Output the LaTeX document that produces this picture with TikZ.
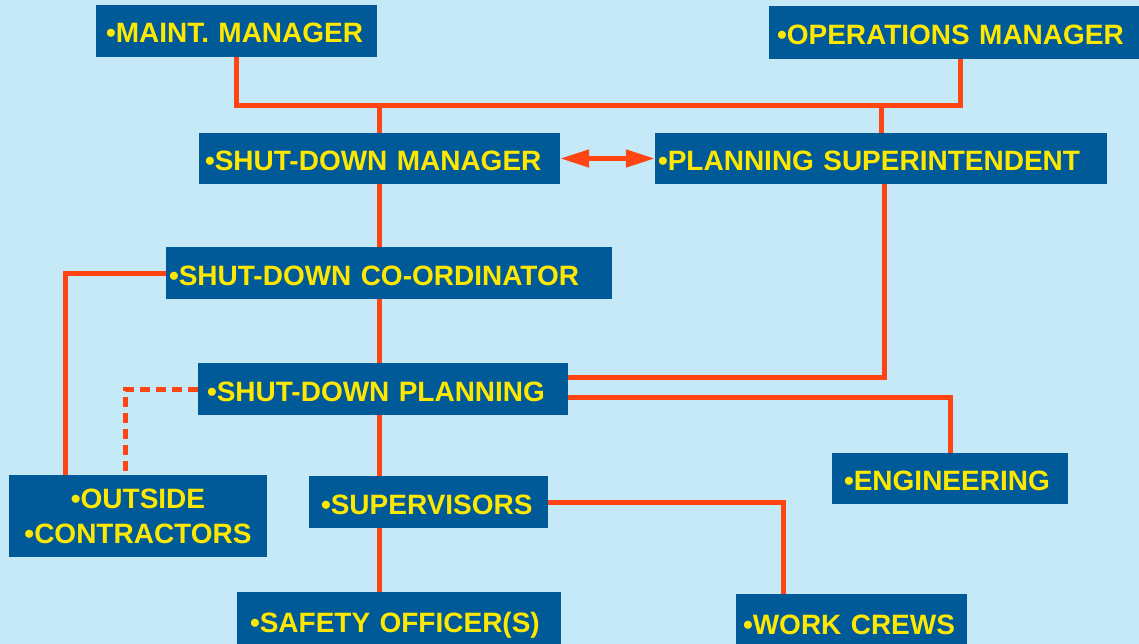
\documentclass[tikz,border=0pt]{standalone}
\usepackage{fontspec}
\setmainfont{Liberation Sans}
\usetikzlibrary{arrows.meta}
\definecolor{bgblue}{RGB}{198,233,247}
\definecolor{boxblue}{RGB}{0,90,152}
\definecolor{txtyellow}{RGB}{255,232,0}
\definecolor{linkred}{RGB}{255,69,20}
\tikzset{
  box/.style={fill=boxblue, text=txtyellow, inner sep=0pt, align=left, font=\bfseries\fontsize{28}{35}\selectfont, text height=24pt, text depth=0pt},
  link/.style={draw=linkred, line width=5pt, line join=miter}
}
\begin{document}
\begin{tikzpicture}[x=1pt,y=-1pt]
\useasboundingbox[fill=bgblue] (0,0) rectangle (1139,644);
\node[box, minimum width=281, minimum height=52, text width=261] (maint) at (236.5,31) {\textbullet MAINT. MANAGER};
\node[box, minimum width=372, minimum height=53, text width=356] (ops) at (955,32.5) {\textbullet OPERATIONS MANAGER};
\node[box, minimum width=361, minimum height=51, text width=349] (sdm) at (379.5,158.5) {\textbullet SHUT-DOWN MANAGER};
\node[box, minimum width=452, minimum height=51, text width=446] (ps) at (881,158.5) {\textbullet PLANNING SUPERINTENDENT};
\node[box, minimum width=446, minimum height=52, text width=440] (coord) at (389,273) {\textbullet SHUT-DOWN CO-ORDINATOR};
\node[box, minimum width=370, minimum height=52, text width=352] (sdp) at (383,389) {\textbullet SHUT-DOWN PLANNING};
\node[box, minimum width=258, minimum height=82, align=center, text height=, text depth=] (outside) at (138,516) {\textbullet OUTSIDE\\\textbullet CONTRACTORS};
\node[box, minimum width=239, minimum height=52, text width=215] (sup) at (428.5,502) {\textbullet SUPERVISORS};
\node[box, minimum width=236, minimum height=51, text width=212] (eng) at (950,478.5) {\textbullet ENGINEERING};
\node[box, minimum width=324, minimum height=56, text width=298] (safety) at (399,620) {\textbullet SAFETY OFFICER(S)};
\node[box, minimum width=231, minimum height=56, text width=217] (work) at (851.5,622) {\textbullet WORK CREWS};
\coordinate (busR) at (960,106);
\coordinate (spine) at (379.5,0);
\draw[link] (maint.south) |- (busR) -- (busR |- ops.south);
\draw[link] (sdm.north) -- (sdm.north |- busR);
\draw[link] (ps.north) -- (ps.north |- busR);
\draw[link, {Triangle[length=29pt,width=17pt]}-{Triangle[length=29pt,width=17pt]}] (sdm.east) -- (ps.west);
\draw[link] (spine |- sdm.south) -- (spine |- coord.north);
\draw[link] (spine |- coord.south) -- (spine |- sdp.north);
\draw[link] (spine |- sdp.south) -- (spine |- sup.north);
\draw[link] (spine |- sup.south) -- (spine |- safety.north);
\draw[link] (coord.west) -| ([xshift=-73pt]outside.north);
\draw[link, dash pattern=on 10pt off 6pt] (sdp.west) -| ([xshift=-12.5pt]outside.north);
\draw[link] ([xshift=3pt]ps.south) |- ([yshift=12pt]sdp.east);
\draw[link] ([yshift=-8pt]sdp.east) -| (eng.north);
\draw[link] (sup.east) -| ([xshift=-68pt]work.north);
\end{tikzpicture}
\end{document}
